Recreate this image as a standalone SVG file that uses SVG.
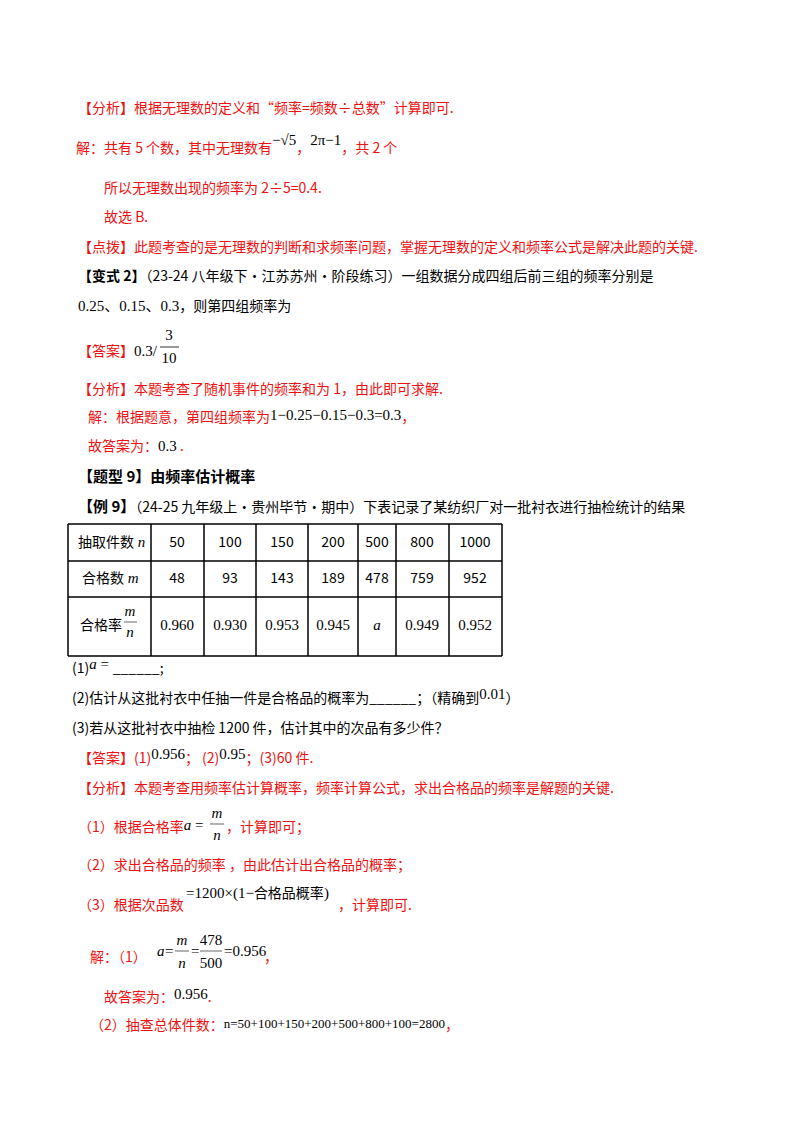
<svg xmlns="http://www.w3.org/2000/svg" width="800" height="1132" viewBox="0 0 800 1132">
<style>
text{font-family:"Noto Sans CJK SC","Liberation Sans",sans-serif;font-size:14px;fill:#000}
.r{fill:#ee1111}
.b{font-weight:bold}
.m{font-family:"Liberation Serif","Noto Sans CJK SC",serif;font-size:15px;fill:#000}
.i{font-style:italic}
.c{text-anchor:middle}
.t line{stroke:#000;stroke-width:1.5}
</style>
<rect width="800" height="1132" fill="#fff"/>
<text class="r" x="78" y="113">【分析】根据无理数的定义和“频率=频数÷总数”计算即可.</text>
<text class="r" x="76" y="153">解：共有 5 个数，其中无理数有<tspan class="m" dy="-8">−√5</tspan><tspan dy="8">，</tspan><tspan class="m" dy="-8">2π−1</tspan><tspan dy="8">，共 2 个</tspan></text>
<text class="r" x="104" y="193">所以无理数出现的频率为 2÷5=0.4.</text>
<text class="r" x="104" y="222">故选 B.</text>
<text class="r" x="78" y="252">【点拨】此题考查的是无理数的判断和求频率问题，掌握无理数的定义和频率公式是解决此题的关键.</text>
<text x="78" y="281"><tspan class="b">【变式 2】</tspan>（23-24 八年级下·江苏苏州·阶段练习）一组数据分成四组后前三组的频率分别是</text>
<text x="78" y="311"><tspan class="m">0.25、0.15、0.3</tspan>，则第四组频率为</text>
<text class="r" x="78" y="356">【答案】<tspan class="m">0.3/</tspan></text>
<text class="m c" x="169" y="340">3</text>
<line x1="160" y1="347" x2="179" y2="347" stroke="#000" stroke-width="0.8"/>
<text class="m c" x="169" y="363">10</text>
<text class="r" x="78" y="394">【分析】本题考查了随机事件的频率和为 1，由此即可求解.</text>
<text class="r" x="88" y="422">解：根据题意，第四组频率为<tspan class="m" dy="-2">1−0.25−0.15−0.3=0.3</tspan><tspan dy="2">，</tspan></text>
<text class="r" x="88" y="451">故答案为：<tspan class="m">0.3</tspan> .</text>
<text class="b" x="78" y="482" style="font-size:15px">【题型 9】由频率估计概率</text>
<text x="78" y="512"><tspan class="b" style="font-size:15px">【例 9】</tspan>（24-25 九年级上·贵州毕节·期中）下表记录了某纺织厂对一批衬衣进行抽检统计的结果</text>
<g class="t">
<line x1="68" y1="524" x2="502" y2="524"/><line x1="68" y1="561" x2="502" y2="561"/>
<line x1="68" y1="597" x2="502" y2="597"/><line x1="68" y1="656" x2="502" y2="656"/>
<line x1="68" y1="524" x2="68" y2="656"/><line x1="151" y1="524" x2="151" y2="656"/>
<line x1="204" y1="524" x2="204" y2="656"/><line x1="256" y1="524" x2="256" y2="656"/>
<line x1="308" y1="524" x2="308" y2="656"/><line x1="358" y1="524" x2="358" y2="656"/>
<line x1="396" y1="524" x2="396" y2="656"/><line x1="449" y1="524" x2="449" y2="656"/>
<line x1="502" y1="524" x2="502" y2="656"/>
</g>
<text x="78" y="547">抽取件数<tspan class="m i"> n</tspan></text>
<text x="177" y="547" class="c">50</text><text x="230" y="547" class="c">100</text><text x="282" y="547" class="c">150</text><text x="333" y="547" class="c">200</text><text x="377" y="547" class="c">500</text><text x="422" y="547" class="c">800</text><text x="475" y="547" class="c">1000</text>
<text x="82" y="583">合格数<tspan class="m i"> m</tspan></text>
<text x="177" y="583" class="c">48</text><text x="230" y="583" class="c">93</text><text x="282" y="583" class="c">143</text><text x="333" y="583" class="c">189</text><text x="377" y="583" class="c">478</text><text x="422" y="583" class="c">759</text><text x="475" y="583" class="c">952</text>
<text x="80" y="630">合格率</text>
<text class="m i c" x="130" y="616">m</text><line x1="124" y1="622" x2="137" y2="622" stroke="#000" stroke-width="0.6"/><text class="m i c" x="130" y="637">n</text>
<text x="177" y="630" class="m c">0.960</text><text x="230" y="630" class="m c">0.930</text><text x="282" y="630" class="m c">0.953</text><text x="333" y="630" class="m c">0.945</text><text x="377" y="630" class="m i c">a</text><text x="422" y="630" class="m c">0.949</text><text x="475" y="630" class="m c">0.952</text>
<text x="72" y="673">(1)<tspan class="m i" dy="-4">a</tspan><tspan class="m"> = </tspan><tspan dy="4">______;</tspan></text>
<text x="72" y="703">(2)估计从这批衬衣中任抽一件是合格品的概率为______；（精确到<tspan class="m" dy="-4">0.01</tspan><tspan dy="4">）</tspan></text>
<text x="72" y="733">(3)若从这批衬衣中抽检 1200 件，估计其中的次品有多少件？</text>
<text class="r" x="78" y="763">【答案】(1)<tspan class="m" dy="-4">0.956</tspan><tspan dy="4">；  (2)</tspan><tspan class="m" dy="-4">0.95</tspan><tspan dy="4">；(3)60 件.</tspan></text>
<text class="r" x="78" y="793">【分析】本题考查用频率估计算概率，频率计算公式，求出合格品的频率是解题的关键.</text>
<text class="r" x="78" y="832">（1）根据合格率<tspan class="m i" dy="-2">a</tspan><tspan class="m"> =</tspan></text>
<text class="m i c" x="217" y="818">m</text><line x1="210" y1="824" x2="224" y2="824" stroke="#000" stroke-width="0.6"/><text class="m i c" x="217" y="840">n</text>
<text class="r" x="226" y="832">，计算即可；</text>
<text class="r" x="78" y="870">（2）求出合格品的频率 ，由此估计出合格品的概率；</text>
<text class="r" x="78" y="910">（3）根据次品数</text>
<text x="186" y="898"><tspan class="m">=1200×(1−</tspan>合格品概率<tspan class="m">)</tspan></text>
<text class="r" x="338" y="910">，计算即可.</text>
<text class="r" x="90" y="962">解：（1）</text>
<text class="m i" x="157" y="956">a</text><text class="m" x="165" y="956">=</text>
<text class="m i c" x="182" y="945">m</text><line x1="175" y1="951" x2="189" y2="951" stroke="#000" stroke-width="0.6"/><text class="m i c" x="182" y="968">n</text>
<text class="m" x="191" y="956">=</text>
<text class="m c" x="211" y="945">478</text><line x1="200" y1="951" x2="222" y2="951" stroke="#000" stroke-width="0.6"/><text class="m c" x="211" y="968">500</text>
<text class="m" x="224" y="956">=0.956</text><text class="r" x="264" y="962">，</text>
<text class="r" x="104" y="1002">故答案为：<tspan class="m" dy="-3">0.956</tspan><tspan dy="3">.</tspan></text>
<text class="r" x="90" y="1030">（2）抽查总体件数：<tspan class="m" style="font-size:13px" dy="-2">n=50+100+150+200+500+800+100=2800</tspan><tspan dy="2">，</tspan></text>
</svg>
